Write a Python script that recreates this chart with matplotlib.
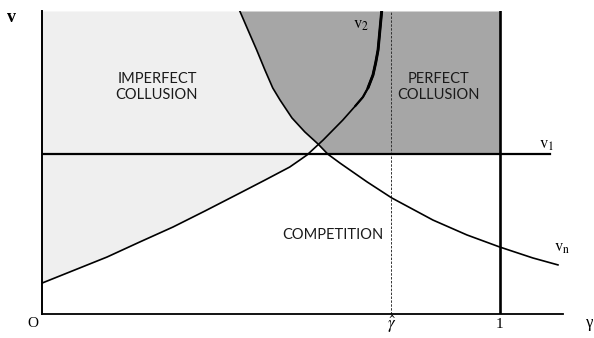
import matplotlib.pyplot as plt
import numpy as np

plt.rcParams["mathtext.fontset"] = "stix"

# v_n curve (gamma, v)
vn_gamma = [0.432, 0.450, 0.469, 0.487, 0.504, 0.520, 0.546, 0.574,
            0.603, 0.624, 0.651, 0.710, 0.764, 0.854, 0.928, 1.000,
            1.072, 1.127]
vn_value = [1.000, 0.937, 0.871, 0.805, 0.746, 0.706, 0.647, 0.601,
            0.561, 0.528, 0.498, 0.436, 0.383, 0.310, 0.261, 0.221,
            0.185, 0.162]

# v_2 curve (gamma, v)
v2_gamma = [0.000, 0.142, 0.214, 0.286, 0.356, 0.432, 0.487, 0.541,
            0.563, 0.579, 0.614, 0.657, 0.684, 0.701, 0.712, 0.723,
            0.729, 0.734, 0.742]
v2_value = [0.102, 0.188, 0.238, 0.287, 0.340, 0.399, 0.442, 0.485,
            0.508, 0.525, 0.574, 0.640, 0.686, 0.716, 0.746, 0.789,
            0.830, 0.871, 1.000]

v1 = 0.528
gamma_hat = 0.762
x_max = 1.138

fig = plt.figure(figsize=(5.94, 3.38), dpi=100)
ax = fig.add_axes([42 / 594, 1 - 314 / 338, (563 - 42) / 594, (314 - 11) / 338])
ax.set_xlim(0, x_max)
ax.set_ylim(0, 1)

# shaded regions
g = np.linspace(0, 1, 2000)
vn_i = np.interp(g, vn_gamma, vn_value)
v2_i = np.interp(g, v2_gamma, v2_value)
ax.fill_between(g, v2_i, np.minimum(vn_i, 1), where=v2_i < vn_i,
                color="#efefef", lw=0, zorder=0)
ax.fill_between(g, np.maximum(v1, vn_i), 1, color="#a6a6a6", lw=0, zorder=0)

# curves and lines; v_2 gets heavier towards the top
ax.plot(vn_gamma, vn_value, color="black", lw=1.2, zorder=3)
ax.plot(v2_gamma, v2_value, color="black", lw=1.2, zorder=3)
ax.plot(v2_gamma[12:], v2_value[12:], color="black", lw=1.6, zorder=3,
        solid_capstyle="round")
ax.plot(v2_gamma[14:], v2_value[14:], color="black", lw=2.1, zorder=3,
        solid_capstyle="round")
ax.plot([0, 1.11], [v1, v1], color="black", lw=1.6, zorder=3)
ax.plot([1, 1], [0, 1], color="black", lw=1.9, zorder=3)
ax.plot([gamma_hat, gamma_hat], [0, 1], color="#333333", lw=0.7,
        ls=(0, (2.5, 1.5)), zorder=2)

for side in ["top", "right"]:
    ax.spines[side].set_visible(False)
ax.spines["left"].set_linewidth(1.4)
ax.spines["bottom"].set_linewidth(1.3)
ax.set_xticks([])
ax.set_yticks([])

serif = dict(family="Liberation Serif", color="black", ha="center",
             va="center", clip_on=False)
ax.text(-0.066, 0.98, "v", fontsize=13, fontweight="bold", **serif)
ax.text(-0.020, -0.030, "O", fontsize=11, **serif)
ax.text(1.197, -0.030, "γ", fontsize=12, **serif)
ax.text(0.764, -0.036, r"$\hat{\gamma}$", fontsize=12, **serif)
ax.text(1.0, -0.036, "1", fontsize=11, **serif)
ax.text(1.103, 0.558, r"$\mathrm{v}_{1}$", fontsize=12, **serif)
ax.text(1.135, 0.218, r"$\mathrm{v}_{\mathrm{n}}$", fontsize=12, **serif)
ax.text(0.697, 0.955, r"$\mathrm{v}_{2}$", fontsize=12, **serif)

sans = dict(family="Lato", fontsize=10.5, color="#1a1a1a", ha="center",
            va="center", linespacing=1.25)
ax.text(0.251, 0.749, "IMPERFECT\nCOLLUSION", **sans)
ax.text(0.865, 0.749, "PERFECT\nCOLLUSION", **sans)
ax.text(0.635, 0.261, "COMPETITION", **sans)

fig.savefig("out.png", dpi=100)
